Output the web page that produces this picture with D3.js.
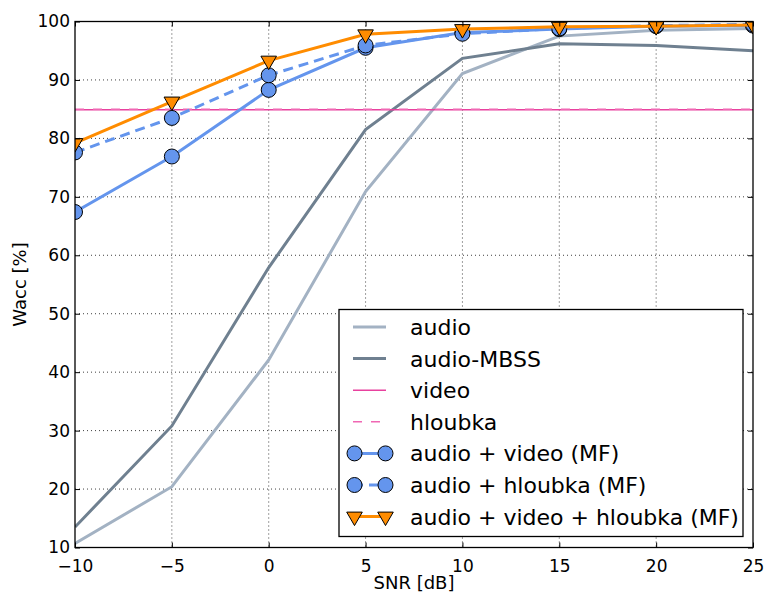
<!DOCTYPE html>
<html>
<head>
<meta charset="utf-8">
<script src="https://cdn.jsdelivr.net/npm/d3@7"></script>
<style>
  body { margin: 0; background: #fff; }
  svg { font-family: "DejaVu Sans", sans-serif; }
</style>
</head>
<body>
<div id="chart"></div>
<script>
// SNR values (x axis)
const snr = [-10, -5, 0, 5, 10, 15, 20, 25];

// series values
const audio = [10.7, 20.4, 42.1, 70.9, 91.1, 97.5, 98.5, 98.8];
const audioMbss = [13.5, 30.8, 57.9, 81.5, 93.7, 96.2, 95.9, 95.0];
const video = [84.9, 84.9, 84.9, 84.9, 84.9, 84.9, 84.9, 84.9];
const hloubka = [85.0, 85.0, 85.0, 85.0, 85.0, 85.0, 85.0, 85.0];
const audioVideo = [67.4, 76.9, 88.3, 95.5, 98.1, 98.7, 99.2, 99.3];
const audioHloubka = [77.6, 83.5, 90.8, 95.9, 97.9, 98.8, 99.3, 99.5];
const audioVideoHloubka = [79.2, 86.3, 93.3, 97.8, 98.7, 99.1, 99.2, 99.4];

const seriesNames = ['audio', 'audio-MBSS', 'video', 'hloubka',
  'audio + video (MF)', 'audio + hloubka (MF)', 'audio + video + hloubka (MF)'];

const xTicks = [-10, -5, 0, 5, 10, 15, 20, 25];
const yTicks = [10, 20, 30, 40, 50, 60, 70, 80, 90, 100];

const series = [
  {name: seriesNames[0], values: audio, color: '#a3b2c3', width: 3},
  {name: seriesNames[1], values: audioMbss, color: '#6f8090', width: 3},
  {name: seriesNames[2], values: video, color: '#e8419e', width: 1.5},
  {name: seriesNames[3], values: hloubka, color: '#f067b3', width: 1.5, dash: '9,9'},
  {name: seriesNames[4], values: audioVideo, color: '#6495ed', width: 3, marker: 'circle'},
  {name: seriesNames[5], values: audioHloubka, color: '#6495ed', width: 3, dash: '10,6', marker: 'circle'},
  {name: seriesNames[6], values: audioVideoHloubka, color: '#ff8c00', width: 3, marker: 'triangle'},
];

const width = 768, height = 597;
const margin = {left: 75, right: 15, top: 21.5, bottom: 49.5};
const w = width - margin.left - margin.right;
const h = height - margin.top - margin.bottom;

const svg = d3.select('#chart').append('svg')
  .attr('width', width)
  .attr('height', height);

const g = svg.append('g')
  .attr('transform', `translate(${margin.left},${margin.top})`);

const x = d3.scaleLinear().domain([-10, 25]).range([0, w]);
const y = d3.scaleLinear().domain([10, 100]).range([h, 0]);

// clip for the data
svg.append('defs').append('clipPath').attr('id', 'plotclip')
  .append('rect').attr('width', w).attr('height', h);

// dotted grid
const grid = g.append('g').attr('class', 'grid');
grid.selectAll('line.v').data(xTicks.slice(1, -1)).join('line')
  .attr('x1', d => x(d)).attr('x2', d => x(d))
  .attr('y1', 0).attr('y2', h);
grid.selectAll('line.h').data(yTicks.slice(1, -1)).join('line')
  .attr('class', 'h')
  .attr('x1', 0).attr('x2', w)
  .attr('y1', d => y(d)).attr('y2', d => y(d));
grid.selectAll('line')
  .attr('stroke', '#000')
  .attr('stroke-width', 1)
  .attr('stroke-dasharray', '1,3')
  .attr('opacity', 0.75);

// lines
const line = d3.line().x((d, i) => x(snr[i])).y(d => y(d));
const plot = g.append('g').attr('clip-path', 'url(#plotclip)');

const tri = d3.symbol().type(d3.symbolTriangle).size(105);

function drawMarker(sel, s, cx, cy) {
  if (s.marker === 'circle') {
    sel.append('circle')
      .attr('cx', cx).attr('cy', cy).attr('r', 7.5)
      .attr('fill', s.color).attr('stroke', '#000').attr('stroke-width', 1);
  } else if (s.marker === 'triangle') {
    sel.append('path')
      .attr('d', tri())
      .attr('transform', `translate(${cx},${cy}) rotate(180)`)
      .attr('fill', s.color).attr('stroke', '#000').attr('stroke-width', 1);
  }
}

series.forEach(s => {
  const sg = plot.append('g');
  sg.append('path')
    .datum(s.values)
    .attr('d', line)
    .attr('fill', 'none')
    .attr('stroke', s.color)
    .attr('stroke-width', s.width)
    .attr('stroke-dasharray', s.dash || null);
  if (s.marker) {
    s.values.forEach((v, i) => drawMarker(sg, s, x(snr[i]), y(v)));
  }
});

// axes with inward ticks on all four sides
const tickLen = 5;
const fmt = d3.format('d');
const xAxis = g.append('g').attr('transform', `translate(0,${h})`)
  .call(d3.axisBottom(x).tickValues(xTicks).tickSize(-tickLen).tickPadding(12).tickFormat(fmt));
const yAxis = g.append('g')
  .call(d3.axisLeft(y).tickValues(yTicks).tickSize(-tickLen).tickPadding(5).tickFormat(fmt));
const xTop = g.append('g')
  .call(d3.axisTop(x).tickValues(xTicks).tickSize(-tickLen).tickFormat(''));
const yRight = g.append('g').attr('transform', `translate(${w},0)`)
  .call(d3.axisRight(y).tickValues(yTicks).tickSize(-tickLen).tickFormat(''));

[xAxis, yAxis, xTop, yRight].forEach(a => {
  a.select('.domain').remove();
  a.selectAll('line').attr('stroke', '#000').attr('stroke-width', 1);
  a.selectAll('text')
    .attr('fill', '#000')
    .style('font-size', '17px')
    .style('font-family', '"DejaVu Sans", sans-serif');
});

// frame
g.append('rect')
  .attr('width', w).attr('height', h)
  .attr('fill', 'none').attr('stroke', '#000').attr('stroke-width', 1.3);

// axis labels
svg.append('text')
  .attr('x', margin.left + w / 2).attr('y', 589)
  .attr('text-anchor', 'middle')
  .style('font-size', '18px')
  .text('SNR [dB]');
svg.append('text')
  .attr('transform', `translate(26,${margin.top + h / 2}) rotate(-90)`)
  .attr('text-anchor', 'middle')
  .style('font-size', '18px')
  .text('Wacc [%]');

// legend
const legend = svg.append('g').attr('transform', 'translate(339,309.5)');
legend.append('rect')
  .attr('width', 404).attr('height', 227)
  .attr('fill', '#fff').attr('stroke', '#000').attr('stroke-width', 1.3);

series.forEach((s, i) => {
  const ry = 17.5 + i * 31.6;
  const row = legend.append('g');
  row.append('line')
    .attr('x1', 14).attr('x2', 47)
    .attr('y1', ry).attr('y2', ry)
    .attr('stroke', s.color)
    .attr('stroke-width', s.width)
    .attr('stroke-dasharray', s.dash || null);
  if (s.marker) {
    drawMarker(row, s, 15.5, ry);
    drawMarker(row, s, 46.5, ry);
  }
  row.append('text')
    .attr('x', 71).attr('y', ry)
    .attr('dy', '0.36em')
    .style('font-size', '22px')
    .text(s.name);
});
</script>
</body>
</html>
